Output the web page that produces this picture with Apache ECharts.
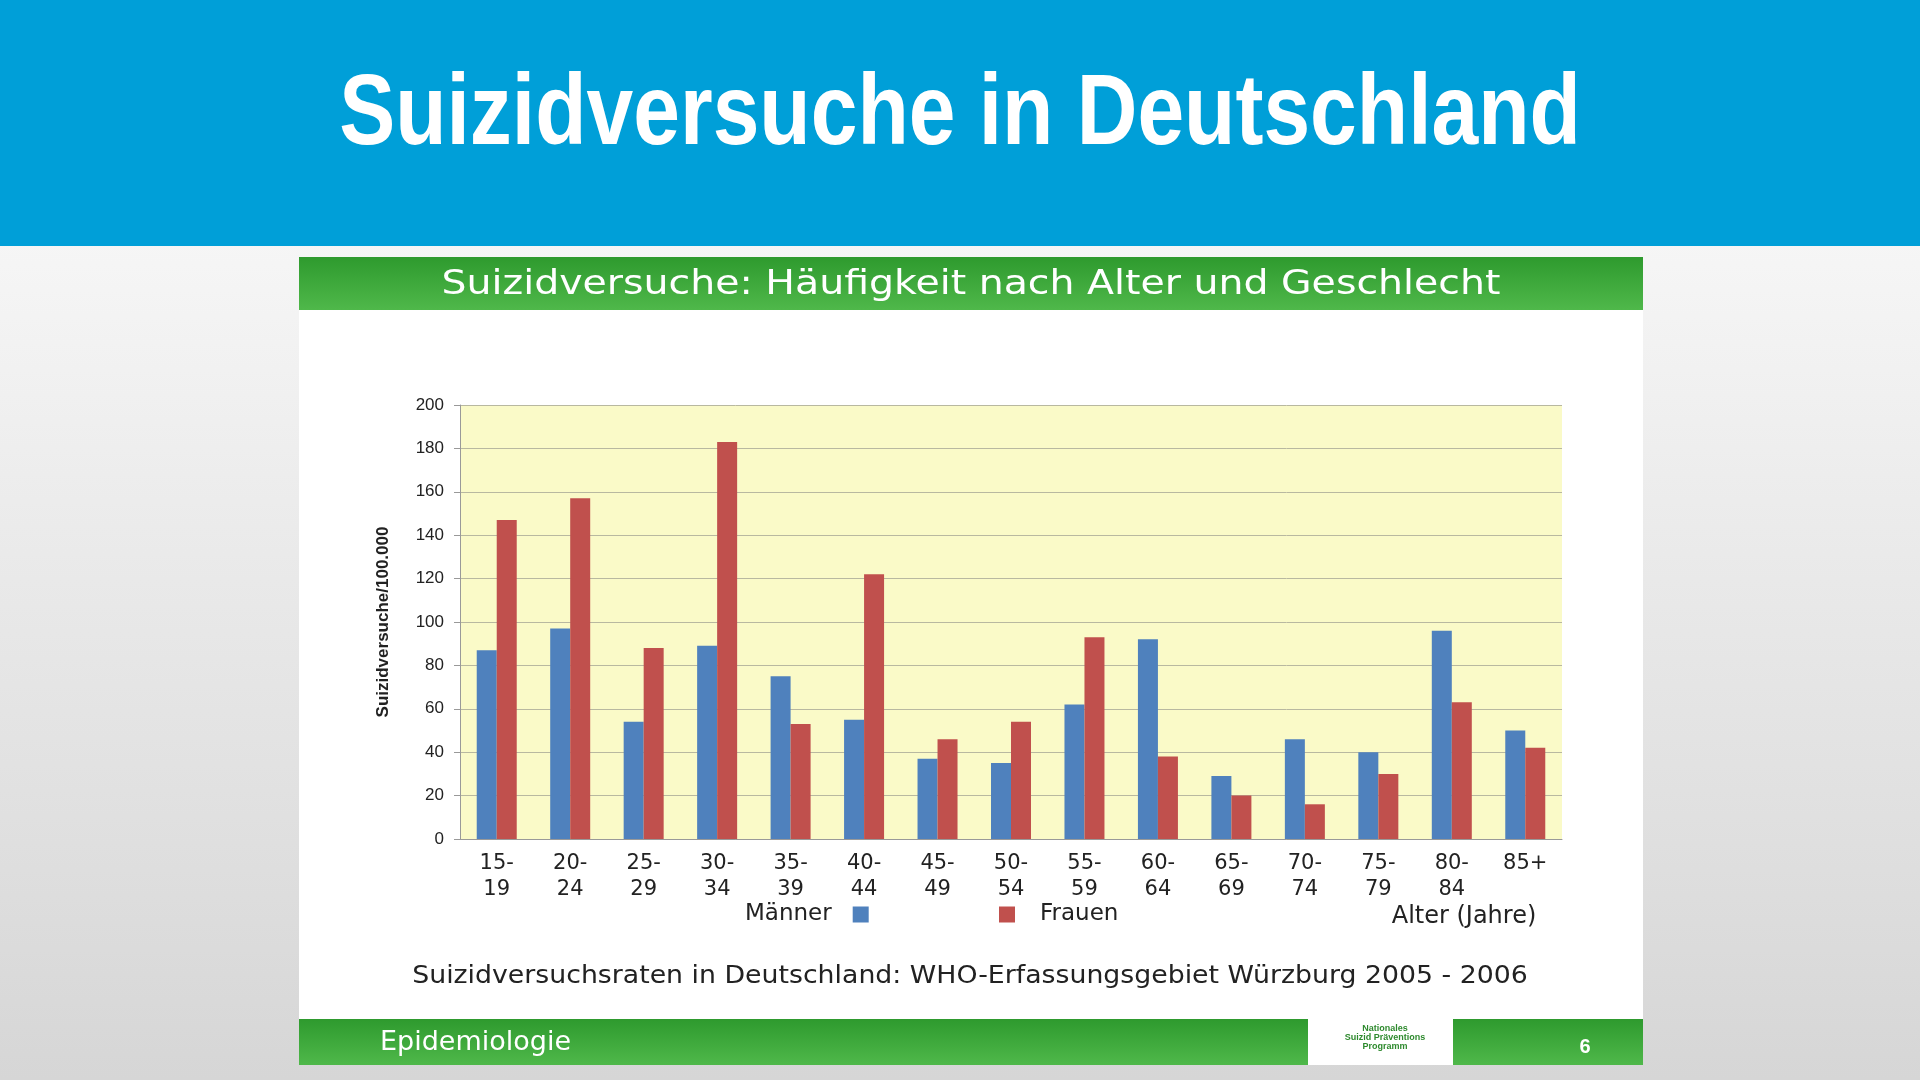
<!DOCTYPE html>
<html><head><meta charset="utf-8">
<script src="https://cdn.jsdelivr.net/npm/echarts@6/dist/echarts.min.js"></script>
<style>html,body{margin:0;padding:0}#chart-container{width:1920px;height:1080px}</style>
</head><body><div id="chart-container"></div>
<script>
let ageGroups = ['15-\n19', '20-\n24', '25-\n29', '30-\n34', '35-\n39', '40-\n44', '45-\n49', '50-\n54', '55-\n59', '60-\n64', '65-\n69', '70-\n74', '75-\n79', '80-\n84', '85+'];
let maenner = [87, 97, 54, 89, 75, 55, 37, 35, 62, 92, 29, 46, 40, 96, 50];
let frauen = [147, 157, 88, 183, 53, 122, 46, 54, 93, 38, 20, 16, 30, 63, 42];

let green = new echarts.graphic.LinearGradient(0, 0, 0, 1, [
  { offset: 0, color: '#2e9a2e' }, { offset: 1, color: '#4fb84a' }
]);

let option = {
  backgroundColor: new echarts.graphic.LinearGradient(0, 0, 0, 1, [
    { offset: 0, color: '#ffffff' }, { offset: 1, color: '#d6d6d6' }
  ]),
  textStyle: { fontFamily: 'Liberation Sans' },
  graphic: [
    { type: 'rect', shape: { x: 0, y: 0, width: 1920, height: 246 }, style: { fill: '#009fd8' }, z: -10 },
    { type: 'text', x: 960, y: 116, scaleX: 0.84, style: { text: 'Suizidversuche in Deutschland', fill: '#fff', font: 'bold 100px "Liberation Sans", sans-serif', align: 'center', verticalAlign: 'middle' } },
    { type: 'rect', shape: { x: 299, y: 257, width: 1344, height: 808 }, style: { fill: '#fff' }, z: -10 },
    { type: 'rect', shape: { x: 299, y: 257, width: 1344, height: 53 }, style: { fill: green }, z: -5 },
    { type: 'text', x: 971, y: 285, scaleX: 1.16, style: { text: 'Suizidversuche: Häufigkeit nach Alter und Geschlecht', fill: '#fff', font: '34px "DejaVu Sans", sans-serif', align: 'center', verticalAlign: 'middle' } },
    { type: 'rect', shape: { x: 460, y: 405, width: 1102, height: 434 }, style: { fill: '#fafac8' }, z: -5 },
    { type: 'text', x: 1464, y: 917, style: { text: 'Alter (Jahre)', fill: '#222', font: '24px "DejaVu Sans", sans-serif', align: 'center', verticalAlign: 'middle' } },
    { type: 'text', x: 970, y: 976, scaleX: 1.07, style: { text: 'Suizidversuchsraten in Deutschland: WHO-Erfassungsgebiet Würzburg 2005 - 2006', fill: '#222', font: '25px "DejaVu Sans", sans-serif', align: 'center', verticalAlign: 'middle' } },
    { type: 'rect', shape: { x: 299, y: 1019, width: 1344, height: 46 }, style: { fill: green }, z: -5 },
    { type: 'text', x: 380, y: 1043, style: { text: 'Epidemiologie', fill: '#fff', font: '27px "DejaVu Sans", sans-serif', verticalAlign: 'middle' } },
    { type: 'rect', shape: { x: 1308, y: 1012, width: 145, height: 53 }, style: { fill: '#fff' }, z: -4 },
    { type: 'text', x: 1385, y: 1038, style: { text: 'Nationales\nSuizid Präventions\nProgramm', fill: '#2e8a2e', font: 'bold 9px "Liberation Sans", sans-serif', align: 'center', verticalAlign: 'middle' } },
    { type: 'text', x: 1585, y: 1047, style: { text: '6', fill: '#fff', font: 'bold 20px "Liberation Sans", sans-serif', align: 'center', verticalAlign: 'middle' } }
  ],
  legend: [
    { left: 740, top: 898, align: 'right', itemWidth: 16, itemHeight: 16, icon: 'rect',
      textStyle: { fontSize: 23, color: '#222', fontFamily: 'DejaVu Sans', padding: [0, 16, 0, 0] }, data: ['Männer'] },
    { left: 994, top: 898, align: 'left', itemWidth: 16, itemHeight: 16, icon: 'rect',
      textStyle: { fontSize: 23, color: '#222', fontFamily: 'DejaVu Sans', padding: [0, 0, 0, 20] }, data: ['Frauen'] }
  ],
  grid: { left: 460, top: 405, width: 1102, height: 434 },
  xAxis: {
    type: 'category', data: ageGroups,
    axisLine: { lineStyle: { color: '#999' } }, axisTick: { show: false },
    axisLabel: { color: '#222', fontSize: 21, lineHeight: 26, margin: 12, fontFamily: 'DejaVu Sans' }
  },
  yAxis: {
    type: 'value', min: 0, max: 200, interval: 20,
    name: 'Suizidversuche/100.000', nameLocation: 'middle', nameGap: 68,
    nameTextStyle: { fontFamily: 'Liberation Sans', fontWeight: 'bold', fontSize: 17, color: '#222' },
    axisLine: { show: true, lineStyle: { color: '#999' } }, axisTick: { show: true, length: 6, lineStyle: { color: '#999' } },
    axisLabel: { color: '#222', fontSize: 17, margin: 16 },
    splitLine: { lineStyle: { color: '#b8b8a0' } }
  },
  series: [
    { name: 'Männer', type: 'bar', data: maenner, barWidth: 20, barGap: '0%', itemStyle: { color: '#4f81bd' } },
    { name: 'Frauen', type: 'bar', data: frauen, barWidth: 20, itemStyle: { color: '#c0504d' } }
  ]
};

var myChart = echarts.init(document.getElementById('chart-container'));
myChart.setOption(option);
</script></body></html>
